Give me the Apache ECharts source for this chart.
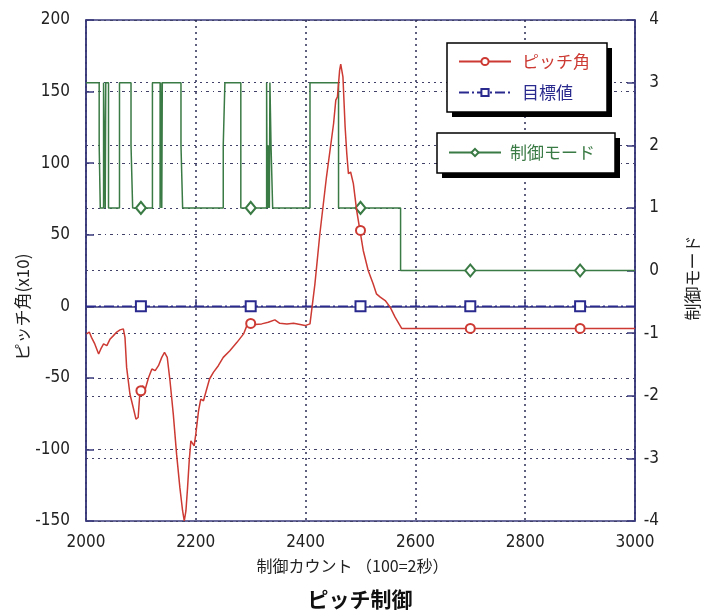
<!DOCTYPE html>
<html>
<head>
<meta charset="utf-8">
<script src="https://cdn.jsdelivr.net/npm/echarts@6/dist/echarts.min.js"></script>
<style>
html,body{margin:0;padding:0;background:#fff;}
#c{width:705px;height:612px;}
</style>
</head>
<body>
<div id="c"></div>
<script>
// ---- data ----
const xTicks = [2000, 2200, 2400, 2600, 2800, 3000];
const leftTicks = [-150, -100, -50, 0, 50, 100, 150, 200];
const rightTicks = [-4, -3, -2, -1, 0, 1, 2, 3, 4];

// Pitch angle (x10)
const pitchX = [2001,2006,2010,2016,2023,2027,2032,2038,2044,2050,2056,2062,2068,2071,2074,2080,2086,2091,2095,2098,2103,2108,2114,2120,2126,2132,2138,2143,2148,2153,2159,2165,2171,2176,2179,2182,2185,2188,2191,2194,2197,2200,2205,2209,2214,2219,2225,2232,2241,2250,2262,2275,2287,2293,2299,2308,2320,2332,2344,2353,2366,2378,2390,2399,2408,2411,2417,2426,2438,2451,2455,2458,2462,2464,2468,2472,2475,2478,2482,2487,2493,2499,2505,2514,2523,2529,2536,2545,2554,2563,2575,2650,2750,2850,3000];
const pitchY = [-19.3,-18,-21.7,-26.3,-33.3,-29.8,-26.3,-27.5,-22.8,-20.5,-18,-16.5,-15.8,-21.7,-42.7,-61.3,-70.7,-78.8,-77.7,-61.3,-55.5,-57.8,-49.7,-43.8,-45,-41.5,-35.7,-32.2,-35.7,-52,-75.3,-103.3,-126.7,-143,-150,-143,-126.7,-108,-94,-92.8,-97.5,-89.3,-73,-64.8,-66,-59,-50.8,-46.2,-41.5,-35.7,-31,-25.2,-19.3,-13.5,-11.9,-12.8,-12.3,-11.2,-9.5,-11.9,-12.3,-11.9,-12.8,-13.5,-12.3,-12.3,15.7,50.7,90.3,127.7,144,146.3,165,169.2,160.3,125.3,106.7,92.7,93.8,85.7,67,53,39,25,15.7,8.7,6.4,4,-0.6,-7.6,-15.5,-15.5,-15.5,-15.5,-15.5];

// marker positions (every 200 counts, offset 100)
const markerX = [2100, 2300, 2500, 2700, 2900];
const pitchMarkY = [-59, -12, 53, -15.5, -15.5];

// Target value
const targetX = [2000, 3000];
const targetY = [0, 0];
const targetMarkY = [0, 0, 0, 0, 0];

// Control mode (value holds from this count on)
const modeX = [2000,2024,2026,2032,2035,2036,2041,2061,2082,2085,2121,2135,2136,2138,2139,2173,2176,2250,2253,2282,2329,2330,2331,2332,2333,2334,2335,2337,2340,2408,2460,2573,3000];
const modeY = [3,2,1,3,1,3,1,3,2,1,3,1,3,1,3,2,1,2,3,1,3,1,2,1,2,1,3,2,1,3,1,0,0];
const modeMarkY = [1, 1, 1, 0, 0];

// ---- styling ----
const RED = '#cc3a33', BLUE = '#2a2a8e', GREEN = '#3a7a44', FRAME = '#3a3a7c';
const labelFont = '"Liberation Sans Narrow","DejaVu Sans Condensed","Liberation Sans",sans-serif';
const jpFont = '"Noto Sans CJK JP","Noto Sans",sans-serif';

function withMarkers(xs, ys, mx, my) {
  const pts = xs.map((x, i) => ({ value: [x, ys[i]], symbol: 'none' }));
  mx.forEach((x, i) => pts.push({ value: [x, my[i]] }));
  pts.sort((a, b) => a.value[0] - b.value[0]);
  return pts;
}

function legendBox(x, y, w, h) {
  return [
    { type: 'rect', z: 15, shape: { x: x + 5, y: y + 5, width: w, height: h }, style: { fill: '#000' } },
    { type: 'rect', z: 16, shape: { x: x, y: y, width: w, height: h }, style: { fill: '#fff', stroke: '#000', lineWidth: 1.5 } }
  ];
}

const chart = echarts.init(document.getElementById('c'), null, { renderer: 'canvas' });
chart.setOption({
  animation: false,
  backgroundColor: '#ffffff',
  grid: { left: 86, right: 70, top: 20, bottom: 91, show: true, borderColor: FRAME, borderWidth: 1.5, backgroundColor: 'transparent' },
  legend: [
    {
      z: 20,
      data: [{ name: 'ピッチ角', textStyle: { color: RED } }, { name: '目標値', textStyle: { color: BLUE } }],
      orient: 'vertical', left: 447, top: 43,
      padding: [10, 10, 10, 11], itemGap: 14, itemWidth: 52, itemHeight: 9,
      textStyle: { fontFamily: jpFont, fontSize: 17, padding: [0, 0, 0, 6] },
      selectedMode: false
    },
    {
      z: 20,
      data: [{ name: '制御モード', textStyle: { color: GREEN } }],
      orient: 'vertical', left: 437, top: 133,
      padding: [11, 12, 11, 11], itemWidth: 52, itemHeight: 9,
      textStyle: { fontFamily: jpFont, fontSize: 17, padding: [0, 0, 0, 4] },
      selectedMode: false
    }
  ],
  xAxis: {
    type: 'value', min: xTicks[0], max: xTicks[xTicks.length - 1], interval: 200,
    axisLine: { show: true, lineStyle: { color: FRAME, width: 1.5 } },
    axisTick: { show: true, inside: true, length: 7, lineStyle: { color: FRAME, width: 1.5 } },
    axisLabel: { color: '#222', fontFamily: labelFont, fontSize: 17, margin: 13, formatter: v => String(v) },
    splitLine: { show: true, lineStyle: { color: '#2c2c55', type: [2, 4], width: 1.5 } }
  },
  yAxis: [
    {
      type: 'value', min: leftTicks[0], max: leftTicks[leftTicks.length - 1], interval: 50,
      axisLine: { show: true, lineStyle: { color: FRAME, width: 1.5 } },
      axisTick: { show: true, inside: true, length: 8, lineStyle: { color: FRAME, width: 1.5 } },
      axisLabel: { color: '#222', fontFamily: labelFont, fontSize: 17, margin: 16, formatter: v => String(v) },
      splitLine: { show: true, lineStyle: { color: '#404068', type: [3, 4, 1, 4], width: 1.2 } }
    },
    {
      type: 'value', min: rightTicks[0], max: rightTicks[rightTicks.length - 1], interval: 1,
      position: 'right',
      axisLine: { show: true, lineStyle: { color: FRAME, width: 1.5 } },
      axisTick: { show: true, inside: true, length: 8, lineStyle: { color: FRAME, width: 1.5 } },
      axisLabel: { color: '#222', fontFamily: labelFont, fontSize: 17, margin: 24, align: 'right' },
      splitLine: { show: true, lineStyle: { color: '#404068', type: [2, 4], width: 1.2 } }
    }
  ],
  graphic: [
    ...legendBox(447, 43, 160, 69),
    ...legendBox(437, 133, 178, 40),
    { type: 'text', left: 'center', top: 558, style: { text: '制御カウント （100=2秒）', font: '16px ' + jpFont, fill: '#222' } },
    { type: 'text', x: 360, y: 599, style: { text: 'ピッチ制御', font: 'bold 21px ' + jpFont, fill: '#111', align: 'center', verticalAlign: 'middle' } },
    { type: 'text', x: 23, y: 307, rotation: Math.PI / 2, style: { text: 'ピッチ角(x10)', font: '17px ' + jpFont, fill: '#222', align: 'center', verticalAlign: 'middle' } },
    { type: 'text', x: 693, y: 278, rotation: Math.PI / 2, style: { text: '制御モード', font: '17px ' + jpFont, fill: '#222', align: 'center', verticalAlign: 'middle' } }
  ],
  series: [
    {
      name: 'ピッチ角', type: 'line', yAxisIndex: 0, z: 4,
      data: withMarkers(pitchX, pitchY, markerX, pitchMarkY),
      symbol: 'emptyCircle', symbolSize: 9, showAllSymbol: true,
      lineStyle: { color: RED, width: 1.5 }, itemStyle: { color: RED, borderWidth: 1.5 }
    },
    {
      name: '目標値', type: 'line', yAxisIndex: 0, z: 3,
      data: withMarkers(targetX, targetY, markerX, targetMarkY),
      symbol: 'emptyRect', symbolSize: 10, showAllSymbol: true,
      lineStyle: { color: BLUE, width: 1.5, type: [10, 3, 2, 3] }, itemStyle: { color: BLUE, borderWidth: 1.5 }
    },
    {
      name: '制御モード', type: 'line', yAxisIndex: 1, step: 'end', z: 2,
      data: withMarkers(modeX, modeY, markerX, modeMarkY),
      symbol: 'emptyDiamond', symbolSize: [10, 12], showAllSymbol: true,
      lineStyle: { color: GREEN, width: 1.5 }, itemStyle: { color: GREEN, borderWidth: 1.5 }
    }
  ]
});
</script>
</body>
</html>
